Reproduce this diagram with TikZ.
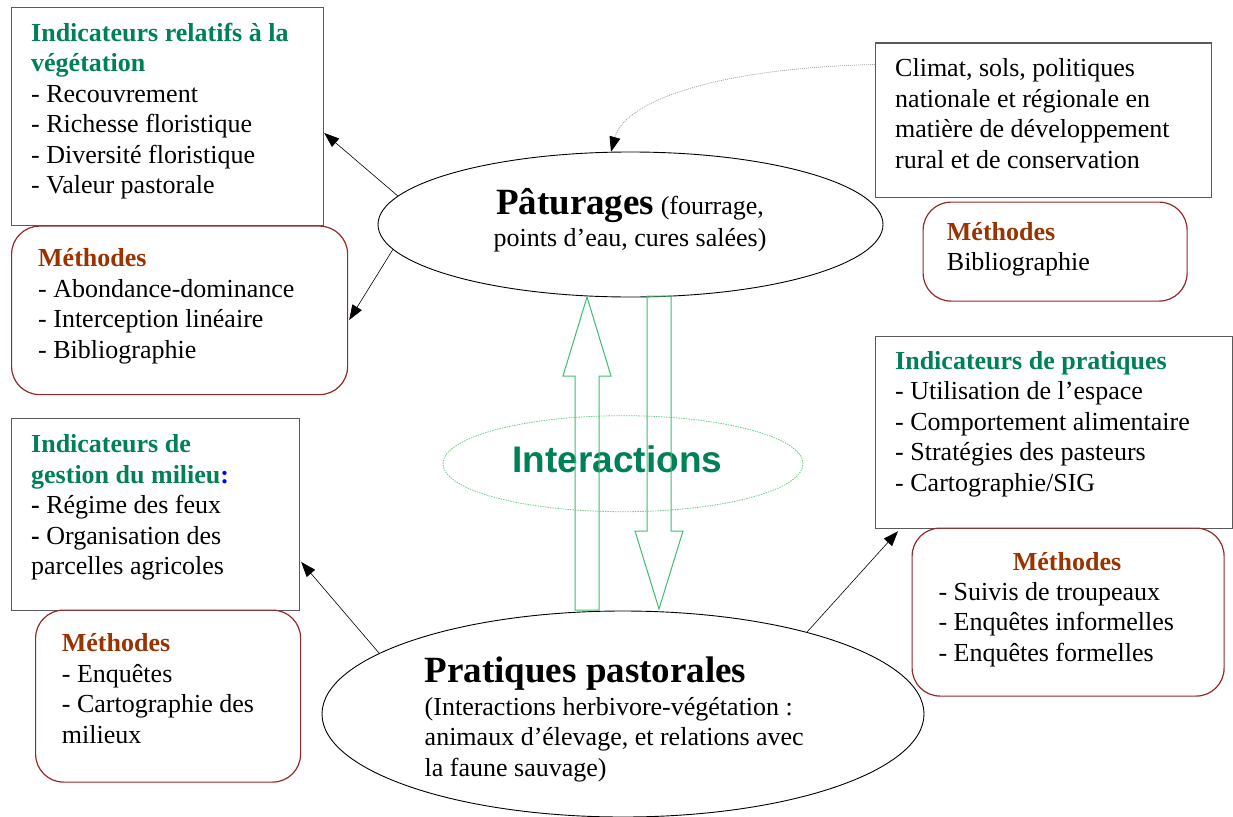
\documentclass[tikz,border=0pt]{standalone}
\usepackage{fontspec}
\setmainfont{Liberation Serif}
\newfontfamily\sansbold{Liberation Sans}
\usetikzlibrary{shapes.geometric,arrows.meta,calc}
\definecolor{hgreen}{RGB}{0,128,85}
\definecolor{mbrown}{RGB}{153,51,0}
\definecolor{boxred}{RGB}{150,40,40}
\definecolor{boxgray}{RGB}{90,90,90}
\definecolor{agreen}{RGB}{60,190,110}
\definecolor{lgreen}{RGB}{110,205,140}
\definecolor{dgray}{RGB}{165,165,165}
\newcommand\hdg[1]{{\bfseries\color{hgreen}#1}}
\newcommand\mth{{\bfseries\color{mbrown}Méthodes}}
\newcommand\blk[1]{\begin{tabular}[t]{@{}l@{}}#1\end{tabular}}
\begin{document}
\begin{tikzpicture}[x=1pt,y=-1pt,
  rectbox/.style={draw=boxgray, line width=1.2pt, inner sep=0pt, anchor=north west},
  roundbox/.style={draw=boxred, line width=1.2pt, rounded corners=28pt, inner sep=0pt, anchor=north west},
  oval/.style={draw=black, line width=0.9pt, ellipse, inner sep=0pt},
  txt/.style={inner sep=0pt, anchor=base west, font=\fontsize{26}{30.5}\selectfont},
  conn/.style={draw=black, line width=0.6pt, -{Triangle[length=15pt,width=11pt]}},
  blockarrow/.style={draw=agreen, line width=1pt}
]
\useasboundingbox (0,0) rectangle (1233,816);

% boxes
\node[rectbox, minimum width=312pt, minimum height=218pt] (veg) at (11,7) {};
\node[roundbox, minimum width=336pt, minimum height=168.5pt] (vegm) at (11,225.5) {};
\node[rectbox, minimum width=288pt, minimum height=192pt] (ges) at (11,417.5) {};
\node[roundbox, minimum width=265pt, minimum height=172pt] (gesm) at (35,609.5) {};
\node[rectbox, minimum width=336pt, minimum height=154pt] (clim) at (875,42.5) {};
\node[roundbox, minimum width=264pt, minimum height=99pt] (climm) at (922.5,201.5) {};
\node[rectbox, minimum width=357pt, minimum height=192pt] (pra) at (875,335.5) {};
\node[roundbox, minimum width=312pt, minimum height=168pt] (pram) at (911.5,527.5) {};

% ellipses
\node[oval, minimum width=505pt, minimum height=145pt] (pat) at (630.5,224.5) {};
\node[oval, minimum width=602pt, minimum height=206pt] (prat) at (623,714) {};
\node[ellipse, draw=lgreen, line width=0.8pt, dash pattern=on 1.5pt off 1pt, inner sep=0pt,
      minimum width=360pt, minimum height=96pt] (inter) at (623,463.7) {};

% texts
\node[txt] (vegt) at (31,41.5) {\blk{\hdg{Indicateurs relatifs à la}\\ \hdg{végétation}\\ - Recouvrement\\ - Richesse floristique\\ - Diversité floristique\\ - Valeur pastorale}};
\node[txt] (vegmt) at (38,266.7) {\blk{\mth\\ - Abondance-dominance\\ - Interception linéaire\\ - Bibliographie}};
\node[txt] (gest) at (31,452.5) {\blk{\hdg{Indicateurs de}\\ \hdg{gestion du milieu}{\bfseries\color{blue}:}\\ \textbf{-} Régime des feux\\ \textbf{-} Organisation des\\ parcelles agricoles}};
\node[txt] (gesmt) at (61.7,651.7) {\blk{\mth\\ - Enquêtes\\ - Cartographie des\\ milieux}};
\node[txt] (climt) at (895,76.7) {\blk{Climat, sols, politiques\\ nationale et régionale en\\ matière de développement\\ rural et de conservation}};
\node[txt] (climmt) at (946.7,240) {\blk{\mth\\ Bibliographie}};
\node[txt] (prat1) at (895,369.3) {\blk{\hdg{Indicateurs de pratiques}\\ - Utilisation de l’espace\\ - Comportement alimentaire\\ - Stratégies des pasteurs\\ - Cartographie/SIG}};
\node[txt, anchor=base] (pramh) at (1067,570) {\mth};
\node[txt] (pramt) at (938.3,600) {\blk{- Suivis de troupeaux\\ - Enquêtes informelles\\ - Enquêtes formelles}};

\node[txt, anchor=base] (patt) at (630,214) {\begin{tabular}[t]{@{}c@{}}{\fontsize{37}{37}\selectfont\bfseries Pâturages} (fourrage,\\[1.5pt] points d’eau, cures salées)\end{tabular}};
\node[txt] (pratt) at (424.5,682) {\fontsize{37}{37}\selectfont\bfseries Pratiques pastorales};
\node[txt] (pratd) at (424.5,715) {\blk{(Interactions herbivore-végétation :\\ animaux d’élevage, et relations avec\\ la faune sauvage)}};

\node[inner sep=0pt, anchor=base, text=hgreen, font=\sansbold\bfseries\fontsize{37}{37}\selectfont] (intert) at (617.5,472.7) {Interactions};

% block arrows
\draw[blockarrow] (575,610) -- (575,376) -- (563,376) -- (587,297) -- (611,376) -- (599,376) -- (599,610) -- cycle;
\draw[blockarrow] (647,296) -- (647,531) -- (635,531) -- (659,609) -- (683,531) -- (671,531) -- (671,296) -- cycle;

% connectors
\draw[conn] (pat.173) -- ($(veg.north east)+(0,126)$);
\draw[conn] (pat.186) -- ($(vegm.north east)+(1,94.5)$);
\draw[conn] (prat.166) -- ($(ges.north east)+(1,144.5)$);
\draw[conn] (prat.24) -- ($(pra.south west)+(23,2.5)$);
\draw[draw=dgray, line width=0.8pt, dash pattern=on 1pt off 1pt, -{Triangle[length=15pt,width=11pt,color=black,fill=black]}]
  ($(clim.north west)+(0,22)$) .. controls (720,68) and (625,100) .. (pat.105);
\end{tikzpicture}
\end{document}
